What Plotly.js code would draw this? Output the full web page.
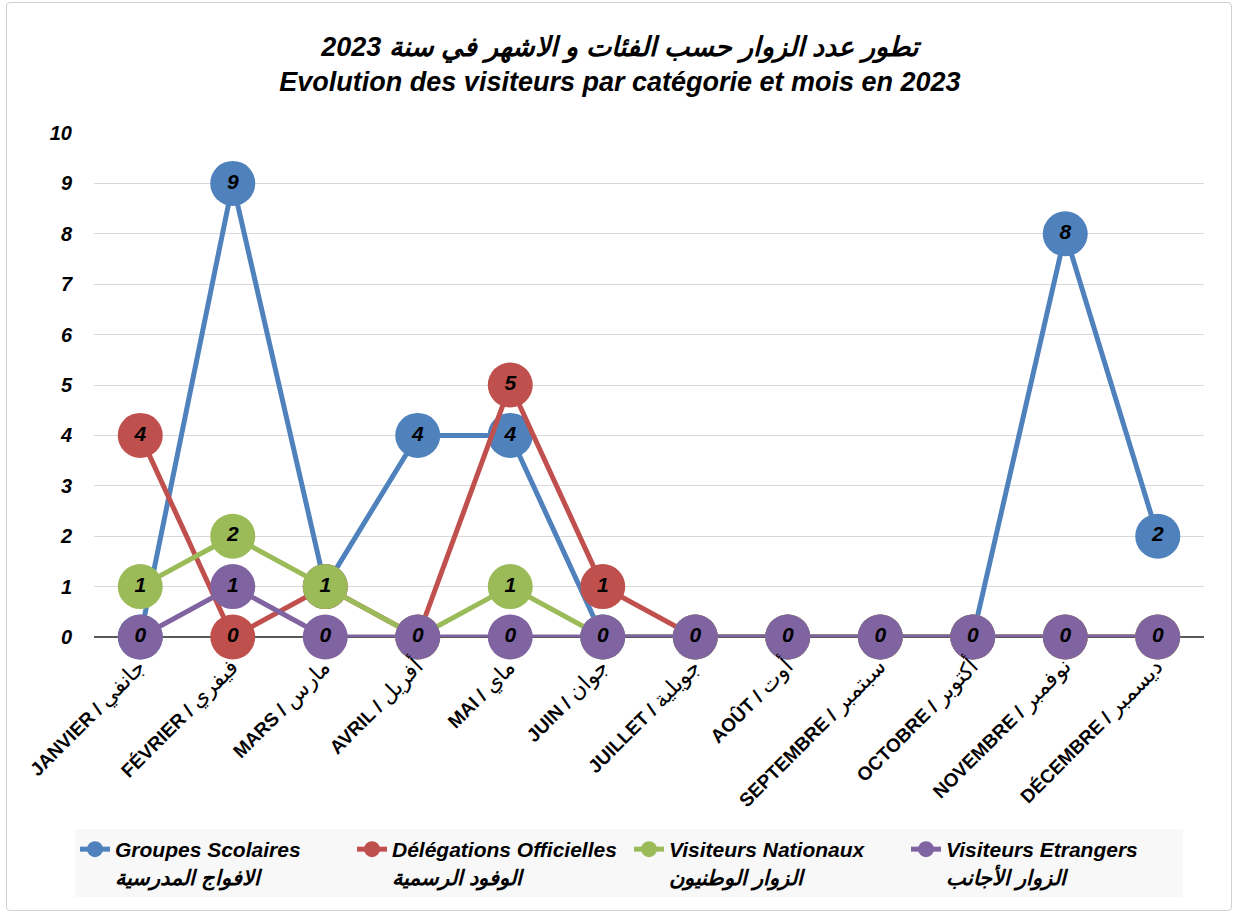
<!DOCTYPE html>
<html>
<head>
<meta charset="utf-8">
<script src="https://cdn.plot.ly/plotly-3.0.1.min.js"></script>
<style>
  html, body { margin: 0; padding: 0; background: #fff; }
  #wrap { position: relative; width: 1235px; height: 914px; }
  #chart { width: 1235px; height: 914px; }
  #frame { position: absolute; left: 6px; top: 2px; width: 1226px; height: 909px;
           border: 1px solid #d0d0d0; border-radius: 4px; pointer-events: none; box-sizing: border-box; }
</style>
</head>
<body>
<div id="wrap"><div id="chart"></div><div id="frame"></div></div>
<script>
const monthsFr = ["JANVIER", "FÉVRIER", "MARS", "AVRIL", "MAI", "JUIN",
                  "JUILLET", "AOÛT", "SEPTEMBRE", "OCTOBRE", "NOVEMBRE", "DÉCEMBRE"];
const monthsAr = ["جانفي", "فيفري", "مارس", "أفريل", "ماي", "جوان",
                  "جويلية", "أوت", "سبتمبر", "أكتوبر", "نوفمبر", "ديسمبر"];
const groupesScolaires       = [0, 9, 1, 4, 4, 0, 0, 0, 0, 0, 8, 2];
const delegationsOfficielles = [4, 0, 1, 0, 5, 1, 0, 0, 0, 0, 0, 0];
const visiteursNationaux     = [1, 2, 1, 0, 1, 0, 0, 0, 0, 0, 0, 0];
const visiteursEtrangers     = [0, 1, 0, 0, 0, 0, 0, 0, 0, 0, 0, 0];
const seriesFr = ["Groupes Scolaires", "Délégations Officielles", "Visiteurs Nationaux", "Visiteurs Etrangers"];
const seriesAr = ["الافواج المدرسية", "الوفود الرسمية", "الزوار الوطنيون", "الزوار الأجانب"];
const yTicks = [0, 1, 2, 3, 4, 5, 6, 7, 8, 9, 10];
const titleAr = "تطور عدد الزوار حسب الفئات و الاشهر في سنة 2023";
const titleFr = "Evolution des visiteurs par catégorie et mois en 2023";

const months = monthsFr.map((m, i) => m + " / " + monthsAr[i]);
const monthLabels = monthsFr.map((m, i) => m + " / <span style=\"font-size:22px;font-weight:normal\">" + monthsAr[i] + "</span>");

const colors = ["#4F81BD", "#C0504D", "#9BBB59", "#8064A2"];
const FONT = "Liberation Sans, Arial, sans-serif";
const allSeries = [groupesScolaires, delegationsOfficielles, visiteursNationaux, visiteursEtrangers];

const traces = allSeries.map((vals, i) => ({
  type: "scatter",
  mode: "lines+markers+text",
  x: months,
  y: vals,
  name: seriesFr[i] + "<br>" + seriesAr[i],
  text: vals.map(String),
  textposition: "middle center",
  textfont: { family: FONT, size: 21, color: "#000", weight: "bold", style: "italic" },
  line: { color: colors[i], width: 5 },
  marker: { color: colors[i], size: 45, line: { width: 0 } },
  cliponaxis: false,
  hoverinfo: "skip"
}));

const PL = 94, PW = 1110, PT = 133, PH = 504;

const layout = {
  width: 1235, height: 914,
  paper_bgcolor: "#ffffff", plot_bgcolor: "#ffffff",
  margin: { l: PL, r: 31, t: PT, b: 277 },
  font: { family: FONT, color: "#000" },
  showlegend: true,
  title: {
    text: titleAr + "<br>" + titleFr,
    font: { family: FONT, size: 27, color: "#000", weight: "bold", style: "italic" },
    x: 0.502, xref: "container", xanchor: "center",
    y: 1 - 56 / 914, yref: "container", yanchor: "middle"
  },
  xaxis: {
    type: "category",
    range: [-0.5, 11.5],
    tickvals: months,
    ticktext: monthLabels,
    showgrid: false,
    showline: false,
    zeroline: false,
    tickangle: -45,
    ticks: "",
    ticklabelstandoff: 14,
    ticklabelshift: 0,
    tickfont: { family: FONT, size: 19, color: "#000", weight: "bold" },
    fixedrange: true
  },
  yaxis: {
    range: [0, 10],
    tickvals: yTicks,
    ticktext: yTicks.map(String),
    showgrid: true,
    gridcolor: "#d9d9d9",
    gridwidth: 1,
    zeroline: true,
    zerolinecolor: "#595959",
    zerolinewidth: 2,
    showline: false,
    ticks: "",
    ticklabelstandoff: 21,
    tickfont: { family: FONT, size: 20, color: "#000", weight: "bold", style: "italic" },
    fixedrange: true
  },
  legend: {
    orientation: "h",
    xref: "paper", yref: "paper",
    x: (75 - PL) / PW, xanchor: "left",
    y: (PT + PH - 829) / PH, yanchor: "top",
    bgcolor: "#f8f8f8",
    borderwidth: 0,
    valign: "top",
    entrywidth: 232,
    font: { family: FONT, size: 21, color: "#000", weight: "bold", style: "italic" },
    itemclick: false, itemdoubleclick: false
  }
};

Plotly.newPlot("chart", traces, layout, { displayModeBar: false, staticPlot: true });
</script>
</body>
</html>
